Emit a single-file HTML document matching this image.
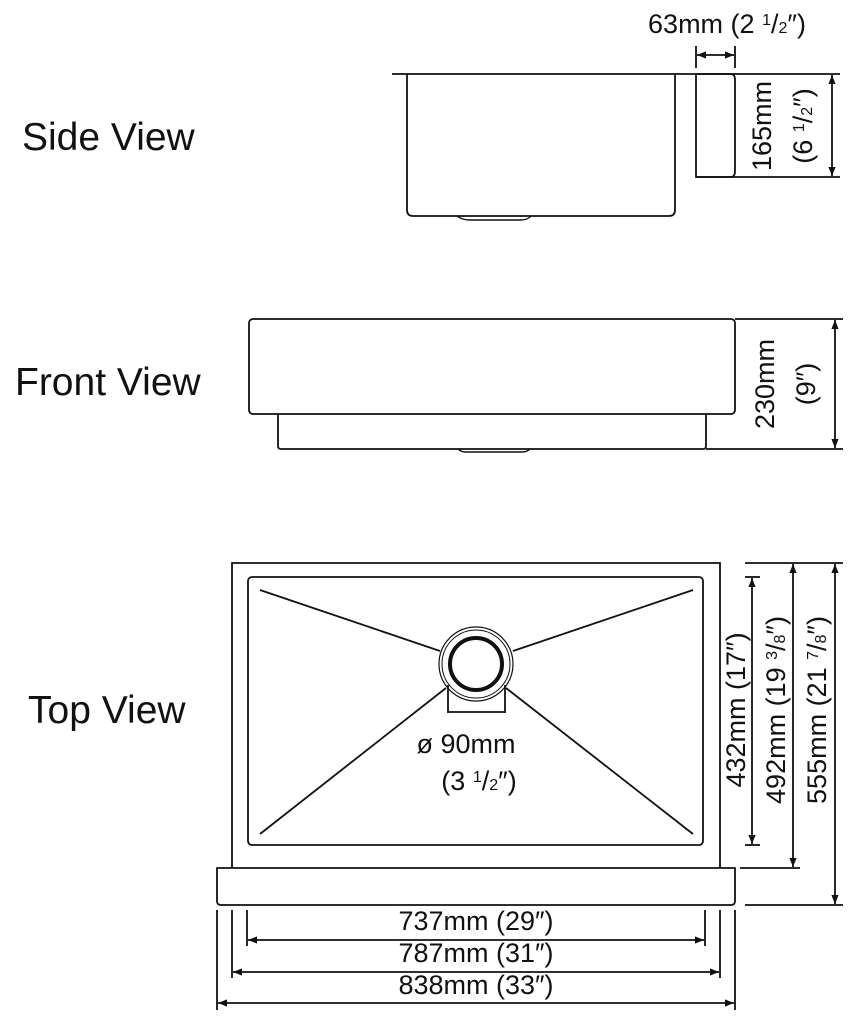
<!DOCTYPE html>
<html><head><meta charset="utf-8"><style>
html,body{margin:0;padding:0;background:#fff;}
svg{display:block;}
text{font-family:"Liberation Sans",Arial,sans-serif;fill:#111;}
</style></head><body>
<svg width="858" height="1024" viewBox="0 0 858 1024" xmlns="http://www.w3.org/2000/svg">
<defs>
<marker id="a" viewBox="0 0 10 10" refX="10" refY="5" markerWidth="7" markerHeight="5" orient="auto-start-reverse"><path d="M0,1 L10,5 L0,9 z" fill="#111"/></marker>
</defs>
<g stroke="#111" stroke-width="1.8" fill="none">
<line x1="392" y1="74" x2="840" y2="74"/>
<path d="M407,74 V210 Q407,216 413,216 H669 Q675,216 675,210 V74"/>
<path d="M457,216 Q462,220 470,220 H520 Q528,220 531,216" stroke-width="1.4"/>
<path d="M696,74 H731 Q735,74 735,80 V171 Q735,177 731,177 H696 Z"/>
<line x1="696" y1="177" x2="840" y2="177"/>
<line x1="696" y1="46" x2="696" y2="68"/>
<line x1="735" y1="46" x2="735" y2="68"/>
<line x1="697" y1="55" x2="734" y2="55" marker-start="url(#a)" marker-end="url(#a)"/>
<line x1="832" y1="75" x2="832" y2="176" marker-start="url(#a)" marker-end="url(#a)"/>
<rect x="249" y="319" width="486" height="95" rx="4"/>
<path d="M278,414 V446 Q278,449 281,449 H703 Q706,449 706,446 V414"/>
<path d="M458,449 Q461,452 466,452 H522 Q527,452 530,449" stroke-width="1.4"/>
<line x1="735" y1="319" x2="843" y2="319"/>
<line x1="706" y1="449" x2="843" y2="449"/>
<line x1="835" y1="320" x2="835" y2="448" marker-start="url(#a)" marker-end="url(#a)"/>
<path d="M232,868 V563 H720 V868"/>
<path d="M217,868 H735 V901 Q735,905 731,905 H221 Q217,905 217,901 Z"/>
<rect x="248" y="577" width="455" height="268" rx="4"/>
<line x1="260" y1="590" x2="440" y2="651"/>
<line x1="693" y1="590" x2="513" y2="651"/>
<line x1="260" y1="834" x2="446" y2="688"/>
<line x1="693" y1="834" x2="506" y2="688"/>
<ellipse cx="476" cy="664" rx="37" ry="37" stroke-width="1.2"/>
<ellipse cx="476" cy="664" rx="34" ry="34" stroke-width="1"/>
<ellipse cx="476" cy="664" rx="26" ry="26" stroke-width="4"/>
<line x1="448" y1="685" x2="448" y2="713"/>
<line x1="505" y1="685" x2="505" y2="713"/>
<line x1="448" y1="712" x2="505" y2="712"/>
<line x1="745" y1="577" x2="760" y2="577"/>
<line x1="745" y1="845" x2="760" y2="845"/>
<line x1="752" y1="578" x2="752" y2="844" marker-start="url(#a)" marker-end="url(#a)"/>
<line x1="745" y1="563" x2="843" y2="563"/>
<line x1="740" y1="868" x2="800" y2="868"/>
<line x1="793" y1="564" x2="793" y2="867" marker-start="url(#a)" marker-end="url(#a)"/>
<line x1="745" y1="905" x2="843" y2="905"/>
<line x1="835" y1="564" x2="835" y2="904" marker-start="url(#a)" marker-end="url(#a)"/>
<line x1="247" y1="910" x2="247" y2="946"/>
<line x1="705" y1="910" x2="705" y2="946"/>
<line x1="248" y1="940" x2="704" y2="940" marker-start="url(#a)" marker-end="url(#a)"/>
<line x1="232" y1="910" x2="232" y2="978"/>
<line x1="720" y1="910" x2="720" y2="978"/>
<line x1="233" y1="972" x2="719" y2="972" marker-start="url(#a)" marker-end="url(#a)"/>
<line x1="217" y1="910" x2="217" y2="1010"/>
<line x1="735" y1="910" x2="735" y2="1010"/>
<line x1="218" y1="1003" x2="734" y2="1003" marker-start="url(#a)" marker-end="url(#a)"/>
</g>
<g font-size="39">
<text x="22" y="150">Side View</text>
<text x="15" y="395">Front View</text>
<text x="28" y="723">Top View</text>
</g>
<g font-size="27">
<text x="727" y="33" text-anchor="middle">63mm (2 <tspan font-size="16" dy="-8">1</tspan><tspan dy="8">/</tspan><tspan font-size="16">2</tspan>″)</text>
<text transform="translate(771,126) rotate(-90)" text-anchor="middle">165mm</text>
<text transform="translate(812,126) rotate(-90)" text-anchor="middle">(6 <tspan font-size="16" dy="-8">1</tspan><tspan dy="8">/</tspan><tspan font-size="16">2</tspan>″)</text>
<text transform="translate(774,384) rotate(-90)" text-anchor="middle">230mm</text>
<text transform="translate(815,384) rotate(-90)" text-anchor="middle">(9″)</text>
<text x="466" y="753" text-anchor="middle">ø 90mm</text>
<text x="479" y="790" text-anchor="middle">(3 <tspan font-size="16" dy="-8">1</tspan><tspan dy="8">/</tspan><tspan font-size="16">2</tspan>″)</text>
<text transform="translate(745,710) rotate(-90)" text-anchor="middle">432mm (17″)</text>
<text transform="translate(785,710) rotate(-90)" text-anchor="middle">492mm (19 <tspan font-size="16" dy="-8">3</tspan><tspan dy="8">/</tspan><tspan font-size="16">8</tspan>″)</text>
<text transform="translate(826,710) rotate(-90)" text-anchor="middle">555mm (21 <tspan font-size="16" dy="-8">7</tspan><tspan dy="8">/</tspan><tspan font-size="16">8</tspan>″)</text>
<text x="476" y="930" text-anchor="middle">737mm (29″)</text>
<text x="476" y="962" text-anchor="middle">787mm (31″)</text>
<text x="476" y="994" text-anchor="middle">838mm (33″)</text>
</g>
</svg>
</body></html>
